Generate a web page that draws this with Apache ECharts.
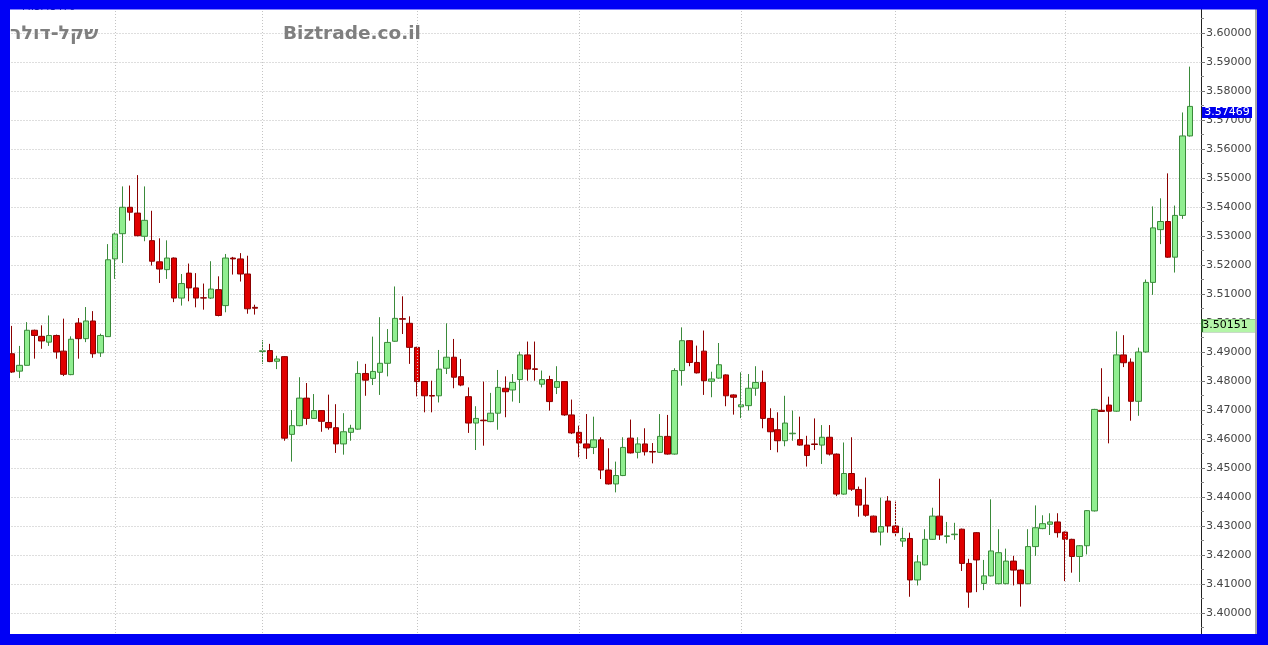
<!DOCTYPE html>
<html>
<head>
<meta charset="utf-8">
<script src="https://cdn.jsdelivr.net/npm/echarts@6/dist/echarts.min.js"></script>
<style>
html,body{margin:0;padding:0;background:#fff;}
#chart{width:1268px;height:645px;}
</style>
</head>
<body>
<div id="chart"></div>
<script>
// ---- data (daily OHLC) ----
const opens = [
3.4894,3.4834,3.4854,3.4975,3.4954,3.4934,3.4957,3.4903,3.4822,3.5000,
3.4946,3.5007,3.4897,3.4953,3.5221,3.5308,3.5399,3.5379,3.5299,3.5284,
3.5211,3.5184,3.5224,3.5086,3.5172,3.5121,3.5087,3.5086,3.5115,3.5060,
3.5224,3.5221,3.5169,3.5054,3.4902,3.4905,3.4868,3.4884,3.4616,3.4646,
3.4741,3.4671,3.4698,3.4657,3.4639,3.4583,3.4623,3.4634,3.4826,3.4809,
3.4830,3.4861,3.4937,3.5015,3.4999,3.4916,3.4798,3.4750,3.4749,3.4844,
3.4882,3.4815,3.4746,3.4655,3.4665,3.4660,3.4689,3.4775,3.4769,3.4805,
3.4890,3.4842,3.4789,3.4805,3.4778,3.4798,3.4683,3.4623,3.4583,3.4571,
3.4597,3.4493,3.4445,3.4474,3.4603,3.4554,3.4583,3.4557,3.4554,3.4609,
3.4548,3.4836,3.4939,3.4864,3.4903,3.4799,3.4810,3.4821,3.4752,3.4711,
3.4715,3.4775,3.4795,3.4671,3.4632,3.4594,3.4618,3.4598,3.4579,3.4583,
3.4579,3.4606,3.4548,3.4410,3.4481,3.4426,3.4372,3.4334,3.4279,3.4386,
3.4300,3.4248,3.4257,3.4114,3.4166,3.4254,3.4334,3.4264,3.4270,3.4289,
3.4171,3.4277,3.4102,3.4128,3.4101,3.4101,3.4179,3.4148,3.4101,3.4229,
3.4291,3.4306,3.4314,3.4279,3.4254,3.4195,3.4232,3.4352,3.4699,3.4717,
3.4696,3.4890,3.4865,3.4730,3.4900,3.5140,3.5322,3.5350,3.5227,3.5371,
3.5645
];
const closes = [
3.4831,3.4854,3.4975,3.4957,3.4938,3.4957,3.4900,3.4823,3.4944,3.4946,
3.5007,3.4894,3.4957,3.5218,3.5307,3.5399,3.5382,3.5301,3.5354,3.5213,
3.5186,3.5224,3.5086,3.5136,3.5121,3.5086,3.5086,3.5117,3.5026,3.5224,
3.5221,3.5169,3.5049,3.5051,3.4904,3.4867,3.4876,3.4603,3.4646,3.4741,
3.4671,3.4698,3.4661,3.4639,3.4583,3.4625,3.4637,3.4826,3.4803,3.4833,
3.4861,3.4933,3.5016,3.5013,3.4916,3.4798,3.4749,3.4748,3.4841,3.4882,
3.4813,3.4786,3.4655,3.4671,3.4663,3.4689,3.4778,3.4763,3.4795,3.4890,
3.4841,3.4840,3.4805,3.4729,3.4798,3.4683,3.4621,3.4586,3.4569,3.4597,
3.4493,3.4445,3.4474,3.4571,3.4552,3.4583,3.4556,3.4555,3.4609,3.4548,
3.4836,3.4939,3.4864,3.4828,3.4801,3.4807,3.4856,3.4749,3.4744,3.4718,
3.4775,3.4795,3.4671,3.4625,3.4594,3.4655,3.4620,3.4579,3.4543,3.4581,
3.4606,3.4548,3.4410,3.4481,3.4427,3.4372,3.4337,3.4279,3.4298,3.4300,
3.4277,3.4257,3.4114,3.4176,3.4254,3.4334,3.4269,3.4266,3.4272,3.4171,
3.4072,3.4183,3.4128,3.4214,3.4208,3.4179,3.4148,3.4101,3.4229,3.4294,
3.4308,3.4314,3.4277,3.4254,3.4195,3.4232,3.4353,3.4702,3.4695,3.4696,
3.4890,3.4863,3.4730,3.4900,3.5140,3.5328,3.5350,3.5227,3.5371,3.5645,
3.57469
];
const lows = [
3.4828,3.4810,3.4854,3.4877,3.4911,3.4921,3.4877,3.4817,3.4820,3.4877,
3.4934,3.4880,3.4883,3.4953,3.5152,3.5207,3.5353,3.5299,3.5282,3.5198,
3.5138,3.5152,3.5072,3.5060,3.5075,3.5054,3.5046,3.5083,3.5023,3.5037,
3.5167,3.5143,3.5032,3.5029,3.4859,3.4865,3.4841,3.4594,3.4522,3.4644,
3.4649,3.4669,3.4625,3.4632,3.4552,3.4546,3.4594,3.4632,3.4749,3.4786,
3.4752,3.4816,3.4935,3.4962,3.4859,3.4747,3.4692,3.4692,3.4726,3.4824,
3.4775,3.4782,3.4621,3.4562,3.4577,3.4658,3.4632,3.4675,3.4729,3.4724,
3.4801,3.4801,3.4778,3.4698,3.4755,3.4680,3.4617,3.4537,3.4531,3.4548,
3.4462,3.4443,3.4416,3.4472,3.4550,3.4533,3.4543,3.4516,3.4552,3.4546,
3.4546,3.4784,3.4851,3.4826,3.4752,3.4744,3.4808,3.4713,3.4684,3.4672,
3.4698,3.4749,3.4637,3.4562,3.4554,3.4575,3.4594,3.4577,3.4505,3.4562,
3.4514,3.4543,3.4403,3.4408,3.4421,3.4332,3.4332,3.4277,3.4233,3.4277,
3.4266,3.4228,3.4056,3.4095,3.4164,3.4252,3.4252,3.4240,3.4252,3.4145,
3.4018,3.4072,3.4079,3.4126,3.4099,3.4099,3.4095,3.4022,3.4099,3.4197,
3.4289,3.4269,3.4260,3.4110,3.4139,3.4107,3.4202,3.4350,3.4693,3.4585,
3.4694,3.4848,3.4663,3.4680,3.4898,3.5097,3.5272,3.5225,3.5174,3.5359,
3.5643
];
const highs = [
3.4990,3.4921,3.5003,3.4977,3.4992,3.5026,3.4960,3.5015,3.4954,3.5017,
3.5055,3.5041,3.4963,3.5272,3.5312,3.5471,3.5474,3.5510,3.5471,3.5387,
3.5292,3.5285,3.5226,3.5169,3.5205,3.5172,3.5136,3.5213,3.5161,3.5238,
3.5228,3.5241,3.5232,3.5063,3.4941,3.4928,3.4887,3.4886,3.4700,3.4813,
3.4793,3.4755,3.4700,3.4753,3.4720,3.4689,3.4649,3.4868,3.4859,3.4953,
3.5020,3.4979,3.5126,3.5092,3.5023,3.4918,3.4800,3.4801,3.4907,3.4999,
3.4945,3.4876,3.4778,3.4713,3.4798,3.4759,3.4838,3.4816,3.4824,3.4901,
3.4936,3.4936,3.4836,3.4818,3.4851,3.4800,3.4736,3.4646,3.4686,3.4677,
3.4606,3.4568,3.4522,3.4606,3.4667,3.4606,3.4637,3.4586,3.4686,3.4683,
3.4844,3.4985,3.4941,3.4922,3.4974,3.4832,3.4931,3.4823,3.4754,3.4830,
3.4824,3.4851,3.4836,3.4706,3.4692,3.4749,3.4698,3.4677,3.4611,3.4671,
3.4648,3.4648,3.4550,3.4588,3.4606,3.4436,3.4467,3.4336,3.4398,3.4403,
3.4384,3.4294,3.4277,3.4200,3.4289,3.4363,3.4463,3.4314,3.4311,3.4291,
3.4187,3.4279,3.4183,3.4392,3.4289,3.4222,3.4197,3.4150,3.4289,3.4371,
3.4337,3.4344,3.4344,3.4281,3.4256,3.4234,3.4355,3.4704,3.4844,3.4746,
3.4971,3.4958,3.4878,3.4915,3.5150,3.5402,3.5430,3.5516,3.5405,3.5726,
3.5884
];
// category labels (trading days) + one empty slot of right margin
const days = opens.map((_, i) => String(i + 1)).concat(['']);
// month separators (index of the day where a new month starts)
const monthMarks = [14, 34, 55, 77, 99, 120, 143];
// reference level shown in the green box on the price scale
const refLevel = 3.50151;
const titleText = 'שקל-דולר';
const siteText = 'Biztrade.co.il';
const topInfo = 'M:3.43476';

// ---- chart ----
const ohlc = opens.map((o, i) => [o, closes[i], lows[i], highs[i]]);
const lastClose = closes[closes.length - 1];
const edgeIndex = days.length - 1;
const chart = echarts.init(document.getElementById('chart'), null, {renderer: 'canvas'});

chart.setOption({
  animation: false,
  backgroundColor: '#ffffff',
  grid: {left: 8.5, top: 4, width: 1192.5, height: 638, containLabel: false},
  xAxis: {
    type: 'category', data: days, boundaryGap: true,
    axisLine: {show: false}, axisTick: {show: false}, axisLabel: {show: false},
    splitLine: {show: false}
  },
  yAxis: {
    type: 'value', position: 'right', min: 3.39, max: 3.61, interval: 0.01,
    axisLine: {show: true, lineStyle: {color: '#222', width: 1}},
    axisTick: {show: true, length: 4, lineStyle: {color: '#777'}},
    minorTick: {show: true, splitNumber: 2, length: 3, lineStyle: {color: '#888'}},
    axisLabel: {
      margin: 5, color: '#444', fontSize: 11, fontFamily: 'DejaVu Sans',
      formatter: v => (v < 3.395 || v > 3.605) ? '' : v.toFixed(5)
    },
    splitLine: {show: true, lineStyle: {color: '#bdbdbd', type: [1, 2], width: 1}}
  },
  series: [
    {
      type: 'line', data: closes, z: 1, silent: true, symbol: 'none',
      lineStyle: {opacity: 0}, tooltip: {show: false},
      markLine: {
        silent: true, symbol: 'none', animation: false,
        label: {show: false},
        lineStyle: {color: '#c4c4c4', type: [1, 2], width: 1},
        data: monthMarks.map(m => ({xAxis: m}))
      }
    },
    {
      type: 'candlestick', data: ohlc, z: 2, barWidth: 6, clip: false,
      itemStyle: {
        color: '#90ee90', color0: '#e00000',
        borderColor: '#3a8a3a', borderColor0: '#8b0000', borderWidth: 1
      },
      markPoint: {
        silent: true, animation: false,
        data: [
          {coord: [edgeIndex, lastClose], value: lastClose,
            symbol: 'rect', symbolSize: [50, 11], symbolOffset: [29.7, 6],
            itemStyle: {color: '#0000ee', borderWidth: 0},
            label: {show: true, position: 'inside', formatter: lastClose.toFixed(5),
              color: '#ffffff', fontSize: 11, fontFamily: 'DejaVu Sans'}},
          {coord: [edgeIndex, refLevel], value: refLevel,
            symbol: 'rect', symbolSize: [54, 13], symbolOffset: [31.7, 7],
            itemStyle: {color: '#b4f5a8', borderColor: '#2b6b2b', borderWidth: 1},
            label: {show: true, position: 'inside', formatter: refLevel.toFixed(5),
              offset: [-4, 0], color: '#000000', fontSize: 11, fontFamily: 'DejaVu Sans'}}
        ]
      }
    }
  ],
  graphic: [
    {type: 'text', left: 22, top: 2, z: 50, silent: true,
      style: {text: topInfo, fill: '#1e2a78', font: '10px "DejaVu Sans"'}},
    {type: 'text', left: 10, top: 25, z: 50, silent: true,
      style: {text: titleText, fill: '#7f7f7f', font: 'bold 19px "DejaVu Sans"'}},
    {type: 'text', left: 283, top: 25, z: 50, silent: true,
      style: {text: siteText, fill: '#7f7f7f', font: 'bold 18.5px "DejaVu Sans"'}},
    {type: 'rect', z: 99, silent: true, shape: {x: 1255, y: 9, width: 2, height: 626}, style: {fill: '#a8a8a8'}},
    {type: 'rect', z: 100, silent: true, shape: {x: 0, y: 0, width: 10, height: 645}, style: {fill: '#0000f5'}},
    {type: 'rect', z: 100, silent: true, shape: {x: 0, y: 0, width: 1268, height: 9.5}, style: {fill: '#0000f5'}},
    {type: 'rect', z: 100, silent: true, shape: {x: 1257, y: 0, width: 11, height: 645}, style: {fill: '#0000f5'}},
    {type: 'rect', z: 100, silent: true, shape: {x: 0, y: 634, width: 1268, height: 11}, style: {fill: '#0000f5'}}
  ]
});
</script>
</body>
</html>
